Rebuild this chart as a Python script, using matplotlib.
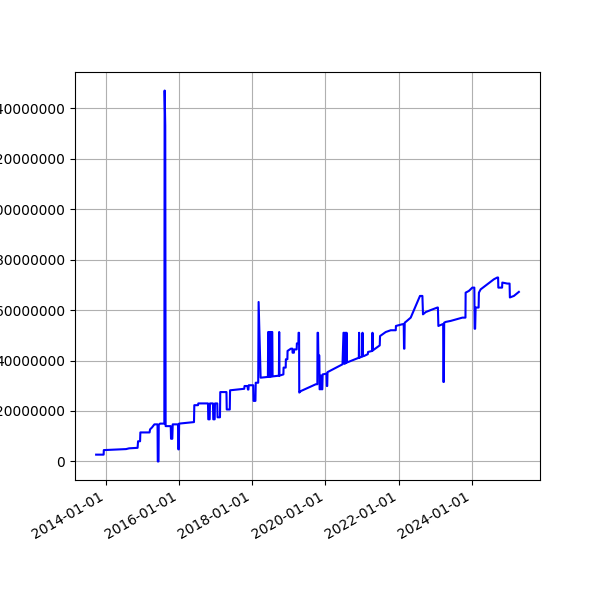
import numpy as np
import pandas as pd
import matplotlib
matplotlib.use("Agg")
import matplotlib.pyplot as plt
import matplotlib.dates as mdates

# dates as decimal years, values in millions
years = [2013.686, 2013.891, 2013.896, 2014.505, 2014.587, 2014.820, 2014.833, 2014.888, 2014.896,
	2015.148, 2015.161, 2015.216, 2015.279, 2015.366, 2015.372, 2015.393, 2015.399, 2015.434,
	2015.552, 2015.560, 2015.577, 2015.587, 2015.727, 2015.735, 2015.770, 2015.781, 2015.926,
	2015.934, 2015.948, 2015.956, 2016.363, 2016.372, 2016.473, 2016.481, 2016.746, 2016.754,
	2016.792, 2016.800, 2016.882, 2016.891, 2016.929, 2016.937, 2017.000, 2017.008, 2017.074,
	2017.082, 2017.251, 2017.259, 2017.342, 2017.350, 2017.738, 2017.746, 2017.825, 2017.839,
	2017.852, 2017.861, 2017.984, 2017.992, 2018.044, 2018.052, 2018.120, 2018.131, 2018.186,
	2018.385, 2018.393, 2018.413, 2018.421, 2018.440, 2018.448, 2018.467, 2018.475, 2018.483,
	2018.490, 2018.505, 2018.513, 2018.686, 2018.694, 2018.702, 2018.809, 2018.814, 2018.872,
	2018.877, 2018.918, 2018.923, 2019.014, 2019.055, 2019.060, 2019.096, 2019.104, 2019.172,
	2019.178, 2019.219, 2019.224, 2019.238, 2019.243, 2019.287, 2019.697, 2019.738, 2019.743,
	2019.757, 2019.765, 2019.792, 2019.800, 2019.820, 2019.828, 2019.847, 2019.855, 2019.874,
	2019.883, 2019.989, 2019.997, 2020.008, 2020.016, 2020.426, 2020.453, 2020.470, 2020.478,
	2020.489, 2020.497, 2020.505, 2020.513, 2020.524, 2020.535, 2020.540, 2020.544, 2020.872,
	2020.880, 2020.888, 2020.967, 2020.973, 2020.981, 2021.016, 2021.117, 2021.126, 2021.240,
	2021.246, 2021.254, 2021.445, 2021.453, 2021.609, 2021.746, 2021.883, 2021.888, 2022.066,
	2022.101, 2022.109, 2022.120, 2022.128, 2022.156, 2022.292, 2022.546, 2022.612, 2022.628,
	2022.702, 2022.839, 2023.022, 2023.036, 2023.049, 2023.158, 2023.180, 2023.186, 2023.199,
	2023.208, 2023.249, 2023.385, 2023.705, 2023.790, 2023.795, 2023.885, 2023.978, 2024.033,
	2024.041, 2024.055, 2024.068, 2024.150, 2024.158, 2024.205, 2024.568, 2024.661, 2024.683,
	2024.689, 2024.792, 2024.798, 2024.934, 2024.997, 2025.005, 2025.115, 2025.251]

values = [2.7, 2.7, 4.5, 4.9, 5.2, 5.4, 8.0, 8.0, 11.5,
	11.5, 12.7, 13.5, 14.7, 14.7, 0.0, 0.0, 14.5, 15.0,
	15.0, 147.0, 133.0, 14.0, 14.0, 9.0, 9.0, 14.7, 14.7,
	4.8, 4.8, 15.0, 15.6, 22.3, 22.3, 23.0, 23.0, 16.7,
	16.7, 23.0, 23.0, 16.7, 16.7, 23.0, 23.0, 17.5, 17.5,
	27.5, 27.5, 20.6, 20.6, 28.2, 28.8, 29.9, 29.9, 28.5,
	28.5, 30.2, 30.2, 24.0, 24.0, 31.2, 31.2, 63.2, 33.2,
	33.5, 51.3, 51.3, 33.5, 33.5, 51.3, 51.3, 33.6, 33.6,
	51.3, 51.3, 33.7, 34.0, 51.3, 34.0, 34.5, 37.2, 37.2,
	40.5, 40.5, 43.8, 44.7, 44.7, 43.1, 43.1, 44.4, 44.4,
	46.8, 46.8, 51.0, 51.0, 27.3, 27.9, 30.6, 30.6, 51.0,
	51.0, 42.0, 42.0, 28.6, 28.6, 34.0, 34.0, 28.6, 28.6,
	34.5, 34.8, 29.9, 29.9, 35.4, 38.5, 51.0, 51.0, 38.7,
	38.7, 51.0, 51.0, 39.0, 39.0, 51.0, 51.0, 39.2, 41.1,
	51.0, 41.1, 41.6, 51.0, 41.7, 41.8, 42.5, 43.4, 43.8,
	51.0, 44.0, 46.0, 49.7, 51.3, 52.0, 52.0, 53.7, 54.4,
	54.4, 44.7, 44.7, 55.0, 55.3, 57.0, 65.6, 65.6, 58.3,
	59.2, 60.0, 61.0, 61.0, 53.7, 54.4, 54.5, 31.5, 31.5,
	55.0, 55.3, 55.7, 57.0, 57.0, 66.9, 67.6, 68.9, 68.9,
	52.6, 52.6, 61.0, 61.0, 66.9, 68.2, 72.2, 72.9, 72.9,
	68.9, 68.9, 70.9, 70.5, 70.5, 65.0, 65.6, 67.2]

# small calibration of the year readings against the tick marks
year_shift = 0.04
start = pd.Timestamp("2014-01-01")
dates = [start + pd.Timedelta(days=(y + year_shift - 2014) * 365.25) for y in years]
vals = np.array(values) * 1e6

fig, ax = plt.subplots(figsize=(6, 6), dpi=100)
ax.plot(dates, vals, color="blue")
ax.xaxis.set_major_locator(mdates.YearLocator(2))
ax.xaxis.set_major_formatter(mdates.DateFormatter("%Y-%m-%d"))
ax.ticklabel_format(style="plain", axis="y")
ax.grid(True)
fig.autofmt_xdate()
plt.savefig("out.png", dpi=100)
